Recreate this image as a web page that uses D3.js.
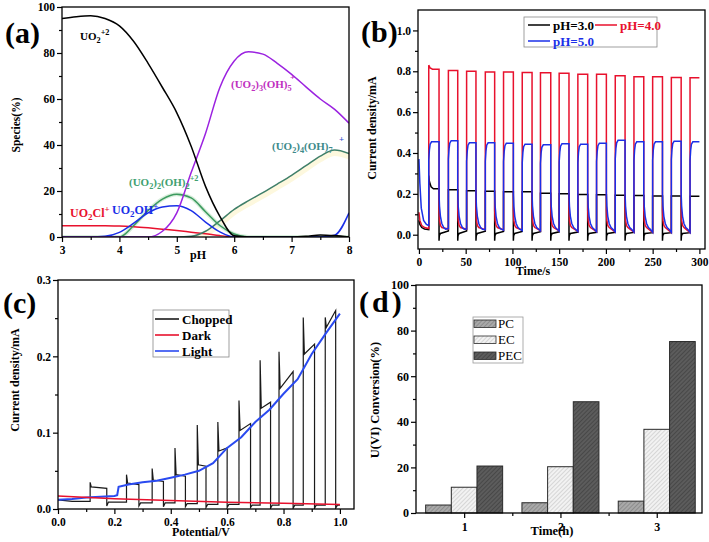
<!DOCTYPE html>
<html><head><meta charset="utf-8">
<script src="https://cdn.jsdelivr.net/npm/d3@7"></script>
<style>body{margin:0;background:#fff;} svg{display:block;} text{font-family:"Liberation Serif","Times New Roman",serif;}</style>
</head><body>
<script>
// ---------- Panel (a): speciation vs pH ----------
const phGrid=[3,3.25,3.5,3.75,4,4.25,4.5,4.75,5,5.25,5.5,5.75,6,6.25,6.5,6.75,7,7.25,7.5,7.75,8];
const uo2=[95,95.8,96.2,95,91.8,85,75.5,65,54,39.5,22,9,0.5,0,0,0,0,0.3,0.9,0.6,0];
const uo3oh5=[0,0,0,0,0,0,0,2.5,10.5,28,45,65,76.5,80.5,79.5,75.5,70.7,65.3,60,55.5,49.5];
const uo2oh2=[0,0,0,0,0,5,11.5,16.5,18.6,17,11,5,1.3,0,0,0,0,0,0,0,0];
const uo2oh=[0,0,0,0.3,2,6,10.5,13,13.6,11.5,6.5,2.2,0,0,0,0,0,0,0,0.8,10.5];
const uo2cl=[4.9,4.9,4.9,4.85,4.8,4.5,4.0,3.4,2.8,2.1,1.4,0.6,0.1,0,0,0,0,0,0,0,0];
const uo4oh7=[0,0,0,0,0,0,0,0,0,0.3,2.5,7,12,15.8,19.3,23,26.8,31,35.2,37.8,36.3];
const aXTicks=[3,4,5,6,7,8], aYTicks=[0,20,40,60,80,100];

// ---------- Panel (b): chopped current vs time ----------
const bOn=[10.5,31.5,51,71,90.5,110.5,130,150,170,190,210,230,250,270,290];
const bOff=[21.5,41.5,61,81,101,121,141,160.5,180.5,200.5,220.5,240.5,260.5,280.5,300];
const redHigh=[0.81,0.804,0.8,0.796,0.796,0.794,0.793,0.79,0.786,0.785,0.778,0.773,0.773,0.77,0.768];
const redLow=[0.03,0.028,0.027,0.025,0.023,0.022,0.02,0.018,0.016,0.015,0.013,0.012,0.011,0.01,0.01];
const blueHigh=[0.455,0.46,0.45,0.45,0.448,0.443,0.44,0.445,0.443,0.448,0.462,0.455,0.455,0.458,0.455];
const blueLow=[0.045,0.03,0.028,0.025,0.022,0.02,0.02,0.018,0.016,0.015,0.014,0.013,0.012,0.012,0.012];
const blackHigh=[0.225,0.22,0.215,0.213,0.21,0.21,0.203,0.2,0.197,0.196,0.193,0.192,0.19,0.19,0.188];
const blackLow=[0.025,0.018,0.018,0.017,0.016,0.016,0.015,0.014,0.013,0.012,0.012,0.011,0.01,0.01,0.01];
// trace shapes: [seconds after switching, value (or offset from plateau)]
const redStart=[[0,0.11],[1,0.07],[3,0.045],[6,0.035]];
const blueStart=[[0,0.37],[1,0.25],[2.5,0.13],[5,0.07],[8,0.05]];
const blackStart=[[0,0.07],[1,0.05],[3,0.035],[6,0.028]];
const redRise=[[0,0]], redFirstRise=[[0,0.02],[1.5,0.006],[4,0]];
const blueRise=[[0,-0.09],[0.7,-0.04],[1.5,-0.012],[3,0]];
const blackRise=[[0,0]], blackFirstRise=[[0,0.065],[0.7,0.035],[2.5,0.01],[5,0]];
const redTail=[[0,0.12],[0.5,0.07],[1.5,0.045],[3,0.035]];
const blueTail=[[0,0.2],[0.5,0.14],[1.5,0.09],[3,0.055],[5,0.035],[7,0.027]];
const blackTail=[[0,-0.03],[0.3,-0.005],[1.5,0.006]];
const bXTicks=[0,50,100,150,200,250,300], bYTicks=[0,0.2,0.4,0.6,0.8,1.0];

// ---------- Panel (c): LSV ----------
const lightV=[0,0.05,0.1,0.15,0.2,0.21,0.215,0.25,0.3,0.35,0.4,0.45,0.5,0.55,0.6,0.65,0.7,0.75,0.8,0.85,0.9,0.95,1.0];
const lightI=[0.012,0.013,0.015,0.016,0.017,0.018,0.029,0.032,0.035,0.037,0.041,0.045,0.05,0.06,0.08,0.094,0.114,0.13,0.151,0.17,0.203,0.23,0.256];
const darkV=[0,0.2,0.4,0.6,0.8,1.0];
const darkI=[0.017,0.0135,0.011,0.009,0.0075,0.006];
const chopOn=[0.114,0.243,0.334,0.415,0.494,0.567,0.642,0.717,0.784,0.870,0.948];
const chopOff=[0.173,0.287,0.374,0.452,0.525,0.600,0.683,0.754,0.834,0.910,0.985];
const chopPeak=[0.035,0.045,0.053,0.080,0.110,0.114,0.142,0.195,0.206,0.251,0.251];
const chopStart=[0.029,0.034,0.038,0.045,0.058,0.076,0.103,0.132,0.158,0.203,0.238];
const chopEnd=[0.027,0.032,0.036,0.043,0.056,0.080,0.112,0.140,0.180,0.216,0.260];
const chopLow=[0.010,0.009,0.008,0.008,0.007,0.006,0.006,0.005,0.005,0.005,0.005,0.005];
const chopDip=[0.004,0.004,0.003,0.003,0.002,0.002,0.002,0.001,0.001,0.001,0.001];
const cXTicks=[0,0.2,0.4,0.6,0.8,1.0], cYTicks=[0,0.1,0.2,0.3];

// ---------- Panel (d): conversion bars ----------
const dCats=[1,2,3];
const dSeries=['PC','EC','PEC'];
const pcVals=[3.5,4.5,5.2];
const ecVals=[11.3,20.3,36.7];
const pecVals=[20.6,48.8,75.2];
const dYTicks=[0,20,40,60,80,100];

// ======================================================
const svg=d3.select('body').append('svg').attr('width',709).attr('height',542);
const defs=svg.append('defs');

function styleAxis(sel,size){
  sel.attr('font-family','"Liberation Serif","Times New Roman",serif').attr('font-size',size||11).attr('font-weight','bold');
  sel.selectAll('.domain').remove();
  sel.selectAll('line').attr('stroke','#000').attr('stroke-width',1.2);
  sel.selectAll('text').attr('fill','#000');
}
function axes(g,x,y,o){
  const x0=x.range()[0], y0=y.range()[0];
  const ya=g.append('g').attr('transform',`translate(${x0},0)`).call(d3.axisLeft(y).tickValues(o.yMajor).tickSize(5).tickPadding(2).tickFormat(o.yFmt));
  const ym=g.append('g').attr('transform',`translate(${x0},0)`).call(d3.axisLeft(y).tickValues(o.yMinor).tickSize(3).tickFormat(''));
  const xa=g.append('g').attr('transform',`translate(0,${y0})`).call(d3.axisBottom(x).tickValues(o.xMajor).tickSize(5).tickPadding(4).tickFormat(o.xFmt));
  const xm=g.append('g').attr('transform',`translate(0,${y0})`).call(d3.axisBottom(x).tickValues(o.xMinor).tickSize(3).tickFormat(''));
  [ya,ym,xa,xm].forEach(s=>styleAxis(s,o.size));
  const [xa0,xa1]=x.range(), [ya0,ya1]=y.range();
  g.append('rect').attr('x',xa0).attr('y',ya1).attr('width',xa1-xa0).attr('height',ya0-ya1)
   .attr('fill','none').attr('stroke','#000').attr('stroke-width',1.3);
}
function clip(id,x,y){
  const [x0,x1]=x.range(),[y0,y1]=y.range();
  defs.append('clipPath').attr('id',id).append('rect').attr('x',x0).attr('y',y1).attr('width',x1-x0).attr('height',y0-y1);
  return `url(#${id})`;
}
function txt(g,x,y,s,o){
  o=o||{};
  const t=g.append('text').attr('x',x).attr('y',y).text(s)
   .attr('font-size',o.size||12).attr('font-weight',o.weight||'bold').attr('fill',o.color||'#000')
   .attr('text-anchor',o.anchor||'start');
  if(o.rot) t.attr('transform',`rotate(${o.rot},${x},${y})`);
  if(o.ls) t.attr('letter-spacing',o.ls);
  return t;
}
function chem(g,x,y,parts,color,size){
  size=size||11;
  const t=g.append('text').attr('x',x).attr('y',y).attr('fill',color).attr('font-size',size).attr('font-weight','bold');
  let cur=0;
  parts.forEach(([s,k])=>{
    const off=k==='sub'?3:k==='sup'?-5:0;
    t.append('tspan').attr('dy',off-cur).attr('font-size',k?size*0.75:size).text(s);
    cur=off;
  });
}
const range=(a,b,s)=>d3.range(a,b+s/2,s).map(v=>+v.toFixed(4));

// ---------------- Panel (a) ----------------
{
  const g=svg.append('g');
  const x=d3.scaleLinear().domain([3,8]).range([62,349]);
  const y=d3.scaleLinear().domain([0,100]).range([237,7]);
  const cp=clip('ca',x,y);
  const line=d3.line().x((d,i)=>x(phGrid[i])).y(d=>y(d)).curve(d3.curveMonotoneX);
  const L=g.append('g').attr('clip-path',cp);
  // soft halos seen under two curves
  L.append('path').attr('d',line(uo4oh7)).attr('transform','translate(0,3)').attr('fill','none').attr('stroke','#fdf8de').attr('stroke-width',6);
  L.append('path').attr('d',line(uo2oh2)).attr('fill','none').attr('stroke','#d8eedb').attr('stroke-width',4);
  const series=[[uo2cl,'#e8112d'],[uo4oh7,'#3f7f6a'],[uo2oh2,'#3c9a5f'],[uo2oh,'#1a2fe8'],[uo3oh5,'#9b22e0'],[uo2,'#000']];
  series.forEach(([d,c])=>L.append('path').attr('d',line(d)).attr('fill','none').attr('stroke',c).attr('stroke-width',1.5));
  axes(g,x,y,{yMajor:aYTicks,yMinor:range(10,90,20),xMajor:aXTicks,xMinor:range(3.5,7.5,1),yFmt:d3.format('d'),xFmt:d3.format('d'),size:11.5});
  txt(g,20,125,'Species(%)',{anchor:'middle',rot:-90,size:11.5});
  txt(g,198,259,'pH',{anchor:'middle',size:12});
  txt(g,5,43,'(a)',{size:30});
  chem(g,80,40,[['UO'],['2','sub'],['+2','sup']],'#000');
  chem(g,231,88,[['(UO'],['2','sub'],[')'],['3','sub'],['(OH)'],['5','sub']],'#c030c0');
  txt(g,290,80,'+',{size:9,color:'#c030c0'});
  chem(g,272,150,[['(UO'],['2','sub'],[')'],['4','sub'],['(OH)'],['7','sub']],'#3d8a8a');
  txt(g,339,142,'+',{size:9,color:'#3050d0'});
  chem(g,129,186,[['(UO'],['2','sub'],[')'],['2','sub'],['(OH)'],['2','sub'],['+2','sup']],'#40a070');
  chem(g,70,217,[['UO'],['2','sub'],['Cl'],['+','sup']],'#e8112d',12);
  chem(g,112,214,[['UO'],['2','sub'],['OH'],['+','sup']],'#1a2fe8',12);
}

// ---------------- Panel (b) ----------------
function trace(start,high,low,rise,firstRise,tail){
  const pts=start.map(d=>[d[0],d[1]]);
  bOn.forEach((on,i)=>{
    pts.push([on,low[i]]);
    (i===0&&firstRise?firstRise:rise).forEach(([dt,dv])=>pts.push([on+dt,high[i]+dv]));
    pts.push([bOff[i],high[i]]);
    if(i<bOn.length-1) tail.forEach(([dt,v])=>pts.push([bOff[i]+dt,v]));
  });
  return pts;
}
{
  const g=svg.append('g');
  const x=d3.scaleLinear().domain([-1,306]).range([418,705]);
  const y=d3.scaleLinear().domain([-0.07,1.1]).range([249,10]);
  const cp=clip('cb',x,y);
  const line=d3.line().x(d=>x(d[0])).y(d=>y(d[1]));
  const L=g.append('g').attr('clip-path',cp);
  const blk=trace(blackStart,blackHigh,blackLow,blackRise,blackFirstRise,blackTail);
  const red=trace(redStart,redHigh,redLow,redRise,redFirstRise,redTail);
  const blu=trace(blueStart,blueHigh,blueLow,blueRise,null,blueTail);
  [[blk,'#000'],[red,'#e8112d'],[blu,'#1a2fe8']].forEach(([d,c])=>
    L.append('path').attr('d',line(d)).attr('fill','none').attr('stroke',c).attr('stroke-width',1.5));
  axes(g,x,y,{yMajor:bYTicks,yMinor:range(0.1,0.9,0.2),xMajor:bXTicks,xMinor:range(25,275,50),yFmt:d3.format('.1f'),xFmt:d3.format('d'),size:11.5});
  txt(g,376,128,'Current density/mA',{anchor:'middle',rot:-90,size:12});
  txt(g,533,275,'Time/s',{anchor:'middle',size:12});
  txt(g,361,42,'(b)',{size:30});
  // legend
  g.append('rect').attr('x',524).attr('y',17).attr('width',133).attr('height',30).attr('fill','#fff').attr('stroke','#888').attr('stroke-width',0.8);
  const leg=[['pH=3.0','#000',528,25],['pH=4.0','#e8112d',595,25],['pH=5.0','#1a2fe8',528,41]];
  leg.forEach(([s,c,lx,ly])=>{
    g.append('line').attr('x1',lx).attr('x2',lx+22).attr('y1',ly).attr('y2',ly).attr('stroke',c).attr('stroke-width',1.5);
    txt(g,lx+25,ly+4.5,s,{color:c,size:13});
  });
}

// ---------------- Panel (c) ----------------
{
  const g=svg.append('g');
  const x=d3.scaleLinear().domain([0,1.05]).range([58,354]);
  const y=d3.scaleLinear().domain([0,0.3]).range([509,280]);
  const cp=clip('cc',x,y);
  const line=d3.line().x(d=>x(d[0])).y(d=>y(d[1]));
  const L=g.append('g').attr('clip-path',cp);
  const chop=[[0,0.012],[0.05,chopLow[0]]];
  chopOn.forEach((on,i)=>{
    chop.push([on,chopLow[i]],[on,chopPeak[i]],[on+0.004,chopStart[i]],[chopOff[i],chopEnd[i]],[chopOff[i],chopDip[i]],[chopOff[i]+0.006,chopLow[i+1]]);
  });
  chop.push([1.0,chopLow[chopLow.length-1]]);
  L.append('path').attr('d',line(chop)).attr('fill','none').attr('stroke','#1a1a1a').attr('stroke-width',1.2);
  L.append('path').attr('d',line(lightV.map((v,i)=>[v,lightI[i]]))).attr('fill','none').attr('stroke','#2a4af0').attr('stroke-width',2);
  L.append('path').attr('d',line(darkV.map((v,i)=>[v,darkI[i]]))).attr('fill','none').attr('stroke','#e8112d').attr('stroke-width',1.5);
  axes(g,x,y,{yMajor:cYTicks,yMinor:range(0.05,0.25,0.1),xMajor:cXTicks,xMinor:range(0.1,0.9,0.2),yFmt:d3.format('.1f'),xFmt:d3.format('.1f'),size:11.5});
  txt(g,19,380,'Current density/mA',{anchor:'middle',rot:-90,size:12});
  txt(g,201,536,'Potential/V',{anchor:'middle',size:12});
  txt(g,3,313,'(c)',{size:30});
  g.append('rect').attr('x',153).attr('y',310).attr('width',76).attr('height',47).attr('fill','#fff').attr('stroke','#888').attr('stroke-width',0.8);
  [['Chopped','#1a1a1a',319],['Dark','#e8112d',335],['Light','#2a4af0',351]].forEach(([s,c,ly])=>{
    g.append('line').attr('x1',155).attr('x2',179).attr('y1',ly).attr('y2',ly).attr('stroke',c).attr('stroke-width',1.6);
    txt(g,182,ly+4.5,s,{size:13});
  });
}

// ---------------- Panel (d) ----------------
{
  const g=svg.append('g');
  const hatch=(id,bg,fg)=>{
    const p=defs.append('pattern').attr('id',id).attr('patternUnits','userSpaceOnUse').attr('width',3).attr('height',3).attr('patternTransform','rotate(45)');
    p.append('rect').attr('width',3).attr('height',3).attr('fill',bg);
    p.append('line').attr('x1',0).attr('y1',0).attr('x2',0).attr('y2',3).attr('stroke',fg).attr('stroke-width',1.2);
  };
  hatch('hPC','#a9a9a9','#7a7a7a');
  hatch('hEC','#f2f2f2','#c4c4c4');
  hatch('hPEC','#5c5c5c','#3a3a3a');
  const fills={PC:'url(#hPC)',EC:'url(#hEC)',PEC:'url(#hPEC)'};
  const vals={PC:pcVals,EC:ecVals,PEC:pecVals};
  const x=d3.scaleLinear().domain([0.5,3.47]).range([416,702]);
  const y=d3.scaleLinear().domain([0,100]).range([513,285]);
  const inner=d3.scaleBand().domain(dSeries).range([-38.5,38.5]);
  dSeries.forEach(s=>{
    g.selectAll(null).data(dCats).enter().append('rect')
      .attr('x',(c)=>x(c)+inner(s)).attr('width',inner.bandwidth())
      .attr('y',(c,i)=>y(vals[s][i])).attr('height',(c,i)=>y(0)-y(vals[s][i]))
      .attr('fill',fills[s]).attr('stroke','#2a2a2a').attr('stroke-width',1);
  });
  axes(g,x,y,{yMajor:dYTicks,yMinor:range(10,90,20),xMajor:dCats,xMinor:[1.5,2.5],yFmt:d3.format('d'),xFmt:d3.format('d'),size:12});
  txt(g,379,400,'U(VI) Conversion(%)',{anchor:'middle',rot:-90,size:12.5});
  txt(g,552,535,'Time(h)',{anchor:'middle',size:12.5});
  txt(g,359,312,'(d)',{size:30,ls:3});
  g.append('rect').attr('x',473).attr('y',317).attr('width',50).attr('height',46).attr('fill','#fff').attr('stroke','#999').attr('stroke-width',0.8);
  [['PC',320],['EC',336],['PEC',352]].forEach(([s,ly])=>{
    g.append('rect').attr('x',474).attr('y',ly).attr('width',22).attr('height',7.5).attr('fill',fills[s]).attr('stroke','#2a2a2a').attr('stroke-width',0.8);
    txt(g,498,ly+8,s,{size:13,weight:'normal'});
  });
}
</script>
</body></html>
